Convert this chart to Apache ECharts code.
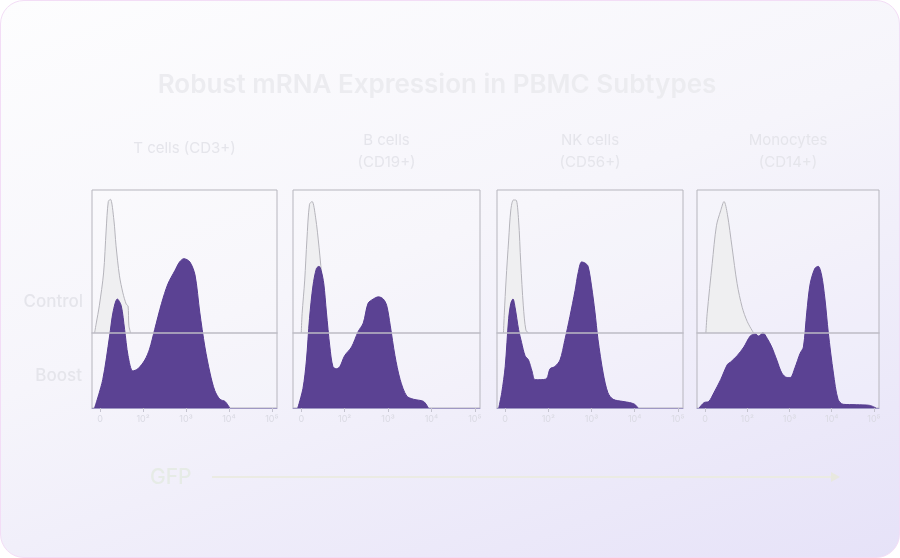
<!DOCTYPE html>
<html lang="en">
<head>
  <meta charset="UTF-8" />
  <title>Robust mRNA Expression in PBMC Subtypes</title>
  <script src="https://cdn.jsdelivr.net/npm/echarts@6.0.0/dist/echarts.min.js"></script>
  <style>
    * { margin: 0; padding: 0; box-sizing: border-box; }
    html, body { width: 900px; height: 558px; background: #ffffff; overflow: hidden; }
    .card {
      position: absolute; left: 0; top: 0; width: 900px; height: 558px;
      border: 1.5px solid #f3ddf6; border-radius: 24px;
      background: linear-gradient(160deg, #fdfdfe 0%, #f6f5fb 45%, #e6e2f8 100%);
    }
    #chart { position: absolute; left: 0; top: 0; width: 900px; height: 558px; }
  </style>
</head>
<body>
  <div class="card"></div>
  <div id="chart"></div>

  <script>
    // panel titles and x tick labels (decades on a log GFP scale)
    const panelTitles = ['T cells (CD3+)', 'B cells\n(CD19+)', 'NK cells\n(CD56+)', 'Monocytes\n(CD14+)'];
    const tickValues = [0, 1, 2, 3, 4];
    const tickLabels = ['0', '10²', '10³', '10⁴', '10⁵'];

    // histograms: [decade position, relative height]
    const tBoost = [[-0.13,0],[0.06,0.13],[0.22,0.33],[0.30,0.44],[0.40,0.50],[0.49,0.47],[0.57,0.36],[0.65,0.24],[0.76,0.17],[0.88,0.18],[1.04,0.22],[1.15,0.27],[1.27,0.36],[1.43,0.48],[1.58,0.57],[1.74,0.63],[1.85,0.67],[1.95,0.685],[2.09,0.67],[2.21,0.61],[2.32,0.44],[2.44,0.28],[2.56,0.16],[2.67,0.08],[2.79,0.04],[2.91,0.03],[3.02,0]];
    const tControl = [[-0.13,0],[-0.09,0.07],[-0.02,0.19],[0.08,0.42],[0.14,0.72],[0.19,0.92],[0.24,0.935],[0.32,0.79],[0.37,0.61],[0.45,0.40],[0.53,0.28],[0.61,0.20],[0.65,0.19],[0.67,0.05],[0.71,0]];

    const bBoost = [[-0.08,0],[0.04,0.09],[0.12,0.22],[0.19,0.41],[0.27,0.56],[0.35,0.64],[0.41,0.65],[0.46,0.63],[0.52,0.57],[0.58,0.44],[0.66,0.28],[0.73,0.19],[0.81,0.18],[0.89,0.19],[1.00,0.24],[1.16,0.28],[1.31,0.35],[1.43,0.39],[1.54,0.48],[1.66,0.50],[1.78,0.51],[1.89,0.50],[1.97,0.47],[2.05,0.38],[2.16,0.24],[2.28,0.13],[2.43,0.055],[2.59,0.04],[2.82,0.03],[2.93,0]];
    const bControl = [[0,0],[0.02,0.135],[0.08,0.37],[0.13,0.65],[0.19,0.90],[0.25,0.92],[0.33,0.81],[0.41,0.60],[0.49,0.345],[0.56,0.135],[0.62,0]];

    const nkBoost = [[-0.15,0],[-0.08,0.07],[0,0.19],[0.08,0.41],[0.13,0.48],[0.18,0.50],[0.23,0.46],[0.31,0.36],[0.38,0.30],[0.46,0.24],[0.54,0.22],[0.62,0.17],[0.69,0.13],[0.81,0.13],[0.96,0.135],[1.04,0.18],[1.15,0.19],[1.27,0.22],[1.38,0.31],[1.50,0.42],[1.62,0.54],[1.69,0.62],[1.77,0.67],[1.85,0.665],[1.92,0.65],[2.00,0.56],[2.08,0.44],[2.15,0.315],[2.27,0.16],[2.38,0.07],[2.50,0.04],[2.73,0.03],[2.88,0.025],[3.00,0.017],[3.08,0]];
    const nkControl = [[-0.04,0],[-0.02,0.14],[0.02,0.37],[0.08,0.65],[0.13,0.86],[0.19,0.93],[0.25,0.93],[0.31,0.79],[0.36,0.49],[0.42,0.19],[0.48,0.02],[0.54,0]];

    const monoBoost = [[-0.14,0],[-0.02,0.025],[0.09,0.03],[0.21,0.07],[0.37,0.13],[0.53,0.20],[0.60,0.21],[0.76,0.24],[0.92,0.28],[1.07,0.33],[1.19,0.34],[1.27,0.33],[1.37,0.345],[1.47,0.32],[1.58,0.28],[1.70,0.22],[1.82,0.16],[1.94,0.14],[2.02,0.14],[2.13,0.185],[2.25,0.25],[2.33,0.28],[2.41,0.44],[2.49,0.57],[2.60,0.64],[2.68,0.65],[2.76,0.61],[2.84,0.50],[2.92,0.345],[3.04,0.16],[3.15,0.04],[3.27,0.017],[3.58,0.015],[3.90,0.012],[4.05,0]];
    const monoControl = [[0.02,0],[0.05,0.135],[0.17,0.485],[0.27,0.75],[0.37,0.855],[0.45,0.92],[0.53,0.83],[0.64,0.60],[0.76,0.345],[0.88,0.18],[1.00,0.08],[1.15,0]];

    const boostSets = [tBoost, bBoost, nkBoost, monoBoost];
    const controlSets = [tControl, bControl, nkControl, monoControl];

    const panelLeft = [92, 293, 497, 697];
    const panelWidth = [185, 187, 186, 182];
    const panelTop = 190, panelHeight = 218, controlHeight = 143;
    const xMin = -0.19, xMax = 4.12;

    const purple = '#563c90';
    const faint = '#e5e5eb';

    const grid = [], xAxis = [], yAxis = [], series = [], graphic = [];

    panelLeft.forEach((left, i) => {
      // full-height panel (boost)
      grid.push({ left, top: panelTop, width: panelWidth[i], height: panelHeight,
        show: true, borderColor: '#b6b5bd', borderWidth: 1, backgroundColor: 'rgba(255,255,255,0.15)' });
      // upper part (control)
      grid.push({ left, top: panelTop, width: panelWidth[i], height: controlHeight });

      xAxis.push({
        gridIndex: 2 * i, type: 'value', min: xMin, max: xMax,
        splitLine: { show: false },
        axisLine: { show: true, lineStyle: { color: '#9f98c4', width: 1 } },
        axisTick: { show: true, customValues: tickValues, length: 4, lineStyle: { color: '#c4c3cf' } },
        axisLabel: {
          customValues: tickValues, color: '#dadae3', fontSize: 9, margin: 7,
          fontFamily: 'Inter', formatter: v => tickLabels[tickValues.indexOf(v)] ?? ''
        }
      });
      xAxis.push({
        gridIndex: 2 * i + 1, type: 'value', min: xMin, max: xMax, z: 10,
        splitLine: { show: false }, axisTick: { show: false }, axisLabel: { show: false },
        axisLine: { show: true, lineStyle: { color: '#bdbcc5', width: 1.5 } }
      });
      yAxis.push({ gridIndex: 2 * i, type: 'value', min: 0, max: 1, show: false });
      yAxis.push({ gridIndex: 2 * i + 1, type: 'value', min: 0, max: 1, show: false });

      series.push({
        type: 'line', xAxisIndex: 2 * i + 1, yAxisIndex: 2 * i + 1,
        data: controlSets[i], smooth: 0.3, showSymbol: false, z: 2,
        lineStyle: { color: '#b5b4bb', width: 1 },
        areaStyle: { color: '#efeff1', opacity: 1 }
      });
      series.push({
        type: 'line', xAxisIndex: 2 * i, yAxisIndex: 2 * i,
        data: boostSets[i], smooth: 0.3, showSymbol: false, z: 3,
        lineStyle: { color: purple, width: 1 },
        areaStyle: { color: purple, opacity: 0.97 }
      });

      const twoLines = panelTitles[i].includes('\n');
      graphic.push({
        type: 'text', x: left + panelWidth[i] / 2, y: twoLines ? 129 : 137,
        style: {
          text: panelTitles[i], fill: faint, font: '15px Inter',
          textAlign: 'center', textVerticalAlign: 'top', lineHeight: 22
        }
      });
    });

    graphic.push(
      { type: 'text', x: 437, y: 85,
        style: { text: 'Robust mRNA Expression in PBMC Subtypes', fill: '#ececf0', font: '600 26px Inter',
          textAlign: 'center', textVerticalAlign: 'middle' } },
      { type: 'text', x: 83, y: 302,
        style: { text: 'Control', fill: faint, font: '500 17px Inter', textAlign: 'right', textVerticalAlign: 'middle' } },
      { type: 'text', x: 82, y: 376,
        style: { text: 'Boost', fill: faint, font: '500 17px Inter', textAlign: 'right', textVerticalAlign: 'middle' } },
      { type: 'text', x: 150, y: 478,
        style: { text: 'GFP', fill: '#e6ebe6', font: '500 21px Inter', textVerticalAlign: 'middle' } },
      { type: 'line', shape: { x1: 212, y1: 477, x2: 836, y2: 477 },
        style: { stroke: '#ebebe3', lineWidth: 2 } },
      { type: 'polygon', shape: { points: [[831, 472], [840, 477], [831, 482]] },
        style: { fill: '#e8e8df' } }
    );

    const chart = echarts.init(document.getElementById('chart'));
    chart.setOption({
      animation: false,
      backgroundColor: 'transparent',
      grid, xAxis, yAxis, series, graphic
    });
  </script>
</body>
</html>
